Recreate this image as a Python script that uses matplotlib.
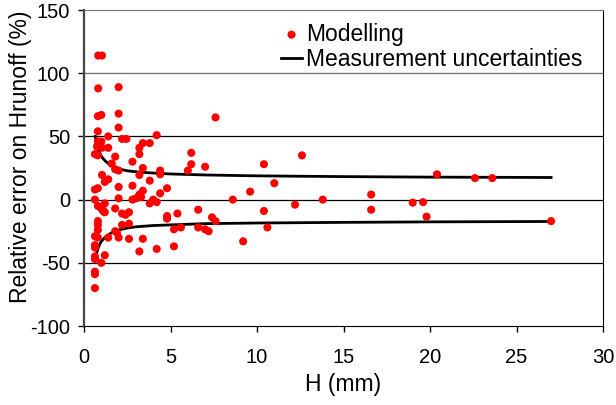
import numpy as np
import matplotlib
matplotlib.use("Agg")
import matplotlib.pyplot as plt

plt.rcParams["font.family"] = ["Liberation Sans", "DejaVu Sans"]
plt.rcParams["axes.unicode_minus"] = False

# modelling errors: H (mm), relative error (%)
h_model = [
    0.82, 1.04, 0.82, 2.0, 0.8, 1.0, 2.0, 7.6, 2.0, 0.8,
    4.2, 1.4, 2.2, 2.45, 1.0, 0.8, 3.4, 3.8, 3.2, 1.4,
    0.75, 1.04, 0.63, 0.8, 6.2, 3.2, 1.8, 12.6, 2.8, 1.6,
    6.2, 10.4, 7.0, 3.4, 1.8, 2.0, 6.0, 4.4, 4.4, 20.4,
    3.2, 1.04, 22.6, 23.6, 1.4, 1.2, 11.0, 3.8, 2.0, 2.8,
    4.8, 0.8, 0.63, 9.6, 3.4, 3.2, 4.4, 16.6, 0.63, 2.0,
    2.8, 3.0, 4.0, 8.6, 13.8, 4.2, 1.2, 3.8, 0.8, 1.04,
    19.0, 19.6, 12.2, 1.8, 16.6, 6.6, 10.4, 1.04, 1.2, 2.2,
    2.6, 5.4, 4.8, 4.8, 19.8, 7.4, 7.6, 27.0, 0.8, 0.8,
    2.6, 2.2, 5.6, 10.6, 6.6, 7.0, 7.2, 5.2, 0.8, 1.8,
    2.0, 0.63, 0.8, 1.4, 2.6, 3.4, 9.2, 0.63, 0.63, 5.2,
    4.2, 3.2, 1.2, 0.63, 0.63, 1.0, 0.63, 0.63, 0.63, 1.16,
    2.4, 3.3, 1.9,
]
err_model = [
    114, 114, 88, 89, 66, 67, 68, 65, 57, 54,
    51, 50, 48, 48, 46, 46, 44.7, 44.7, 41, 41,
    42, 41, 36, 35, 37, 36, 34, 35, 30, 28.5,
    28, 28, 26, 25, 24, 23, 23, 23, 20, 20,
    19.5, 19.5, 17, 17, 16, 14, 13, 15, 10, 11,
    9, 9, 8, 6.3, 7, 4, 5, 4, 0, 1,
    0, 1, 0, 0, 0, -2, -3, -3, -5, -6,
    -2.4, -2, -4, -7, -8, -8, -9, -8, -10, -11,
    -10, -11, -13, -15, -13.5, -14, -17, -17, -17, -20,
    -19, -20, -22, -22, -22, -23.5, -25, -23.5, -24, -25,
    -30, -29, -30, -30, -31, -31, -33, -36, -38, -37,
    -39, -41, -44, -45, -47, -50, -57, -59, -70, -9.5,
    -12, 2, -26,
]

h_upper = [0.65, 0.72, 0.8, 0.9, 1.0, 1.1, 1.25, 1.4, 1.7, 2.0, 2.5, 3.0, 4.0,
           5.0, 7.0, 10.0, 15.0, 20.0, 27.0]
unc_upper = [50, 45, 40.5, 37, 34.5, 32.5, 30.3, 28.7, 26.2, 24.3, 22.8, 22.0,
             21.0, 20.3, 19.5, 18.8, 18.2, 17.8, 17.5]
h_lower = [0.72, 0.78, 0.85, 0.92, 1.0, 1.1, 1.2, 1.35, 1.5, 1.75, 2.0, 2.5, 3.0,
           4.0, 5.0, 7.0, 10.0, 15.0, 20.0, 27.0]
unc_lower = [-43, -40, -37, -35, -33, -31.5, -30, -28.5, -27, -25.2, -24, -22.5,
             -21.5, -20.5, -20, -19, -18.5, -18, -17.6, -17.3]

x_ticks = [0, 5, 10, 15, 20, 25, 30]
y_ticks = [-100, -50, 0, 50, 100, 150]


def main():

    fig = plt.figure(figsize=(6.16, 4.05), dpi=100)
    ax = fig.add_axes([0.1364, 0.195, 0.8425, 0.7803])

    for yv in [-50, 0, 50]:
        ax.axhline(yv, color="black", lw=0.9, zorder=1)
    ax.axhline(100, color="#777777", lw=1.0, zorder=1)

    ax.plot(h_upper, unc_upper, color="black", lw=2, zorder=2,
            label="Measurement uncertainties")
    ax.plot(h_lower, unc_lower, color="black", lw=2, zorder=2)

    ax.scatter(h_model, err_model, s=34, color="#ff0000", edgecolors="none",
               zorder=3, label="Modelling")

    ax.set_xlim(0, 30)
    ax.set_ylim(-100, 150)
    ax.set_xticks(x_ticks)
    ax.set_yticks(y_ticks)
    ax.tick_params(labelsize=14.5, direction="out", length=4, width=1)
    ax.tick_params(axis="x", pad=12)
    ax.tick_params(axis="y", pad=6)

    ax.set_xlabel("H (mm)", fontsize=16.5, labelpad=4)
    ax.set_ylabel("Relative error on Hrunoff (%)", fontsize=16.5)
    ax.yaxis.set_label_coords(-0.1, 0.535)

    ax.spines["top"].set_color("#777777")
    ax.spines["right"].set_color("black")
    ax.spines["left"].set_color("#444444")
    ax.spines["left"].set_linewidth(1.6)
    ax.spines["bottom"].set_color("black")

    handles, labels = ax.get_legend_handles_labels()
    ax.legend(handles[::-1], labels[::-1], loc="upper left",
              bbox_to_anchor=(0.38, 0.96), frameon=False, fontsize=16.5,
              handlelength=0.9, handletextpad=0.18, labelspacing=0.1,
              borderpad=0, borderaxespad=0, scatterpoints=1)

    fig.savefig("out.png", dpi=100)


if __name__ == "__main__":

    main()
